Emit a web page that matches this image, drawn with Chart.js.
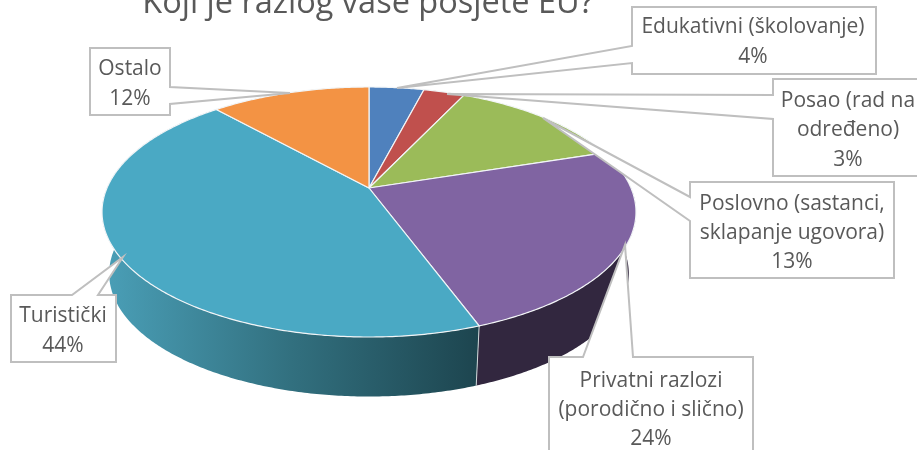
<!DOCTYPE html>
<html><head><meta charset="utf-8">
<style>html,body{margin:0;padding:0;background:#fff}canvas{display:block}</style>
<script src="https://cdn.jsdelivr.net/npm/chart.js@4"></script>
</head><body><canvas id="c" width="917" height="450"></canvas>
<script>
const titleText = 'Koji je razlog vaše posjete EU?';
const categories = ['Edukativni (školovanje)','Posao (rad na određeno)','Poslovno (sastanci, sklapanje ugovora)','Privatni razlozi (porodično i slično)','Turistički','Ostalo'];
const values = [4,3,13,24.4,44,11.6];
const colors = ['#4f81bd','#c0504d','#9bbb59','#8064a2','#4aa9c4','#f39344'];
const labelLines = [['Edukativni (školovanje)'],['Posao (rad na','određeno)'],['Poslovno (sastanci,','sklapanje ugovora)'],['Privatni razlozi','(porodično i slično)'],['Turistički'],['Ostalo']];

const FONT = '"Open Sans", sans-serif';
const k = -0.192;
const topFace = {cx:369, cy:188, a:262, b:120.4};
const botFace = {cx:369, cy:250, a:255, b:118.4};
function project(f, theta){
  const u = Math.sin(theta), v = -Math.cos(theta), w = 1 + k*v;
  return [f.cx + f.a*u/w, f.cy + f.b*v/w];
}
function tracePts(ctx, f, t0, t1, first){
  const n = Math.max(2, Math.ceil(Math.abs(t1-t0)/0.01));
  for(let i=0;i<=n;i++){
    const p = project(f, t0+(t1-t0)*i/n);
    if(i===0 && first) ctx.moveTo(p[0],p[1]); else ctx.lineTo(p[0],p[1]);
  }
}
const callouts = [
 {box:[632,7,876,74],   wedge:['L',46,63],  tip:[397,88],  y:[33,63], cx:753},
 {box:[773,79,925,176], wedge:['L',95,119], tip:[447,94],  y:[107,136,166], cx:848},
 {box:[690,182,894,278],wedge:['L',197,221],tip:[543,118], y:[210,239,268], cx:792},
 {box:[549,357,753,470],wedge:['T',583,633],tip:[625,245], y:[387,416,445], cx:651},
 {box:[11,295,116,362], wedge:['T',72,98],  tip:[123,257], y:[322,352], cx:63},
 {box:[90,48,170,115],  wedge:['R',87,104], tip:[290,93],  y:[75,105], cx:130}
];
function drawCallout(ctx, c, lines){
  const [x0,y0,x1,y1] = c.box, [side,p,q] = c.wedge, [tx,ty] = c.tip;
  ctx.beginPath();
  ctx.moveTo(x0,y0);
  if(side==='T'){ctx.lineTo(p,y0);ctx.lineTo(tx,ty);ctx.lineTo(q,y0);}
  ctx.lineTo(x1,y0);
  if(side==='R'){ctx.lineTo(x1,p);ctx.lineTo(tx,ty);ctx.lineTo(x1,q);}
  ctx.lineTo(x1,y1);ctx.lineTo(x0,y1);
  if(side==='L'){ctx.lineTo(x0,q);ctx.lineTo(tx,ty);ctx.lineTo(x0,p);}
  ctx.closePath();
  ctx.fillStyle='#fff';ctx.fill();
  ctx.lineWidth=2;ctx.lineJoin='miter';ctx.strokeStyle='#bfbfbf';ctx.stroke();
  ctx.fillStyle='#595959';ctx.font='21px '+FONT;ctx.textAlign='center';ctx.textBaseline='alphabetic';
  lines.forEach((s,i)=>ctx.fillText(s,c.cx,c.y[i]));
}
const pie3d = {
  id:'pie3d',
  beforeDatasetDraw(chart,args){
    const ctx = chart.ctx, arcs = chart.getDatasetMeta(args.index).data;
    const ang = arcs.map(el=>[el.startAngle+Math.PI/2, el.endAngle+Math.PI/2]);
    ctx.save();
    const tealGrad = ctx.createLinearGradient(104,0,478,0);
    tealGrad.addColorStop(0,'#4a9fb7');tealGrad.addColorStop(0.5,'#32707f');tealGrad.addColorStop(1,'#1d454f');
    [3,4].forEach(i=>{
      const [a,b] = ang[i];
      ctx.beginPath();tracePts(ctx,topFace,a,b,true);tracePts(ctx,botFace,b,a,false);ctx.closePath();
      ctx.fillStyle = i===4 ? tealGrad : '#32273f';ctx.fill();
    });
    const s0 = project(topFace,ang[4][0]), s1 = project(botFace,ang[4][0]);
    ctx.beginPath();ctx.moveTo(s0[0],s0[1]);ctx.lineTo(s1[0],s1[1]);ctx.strokeStyle='#cfd6d8';ctx.lineWidth=1;ctx.stroke();
    ang.forEach(([a,b],i)=>{
      ctx.beginPath();ctx.moveTo(topFace.cx,topFace.cy);tracePts(ctx,topFace,a,b,false);ctx.closePath();
      ctx.fillStyle=colors[i];ctx.fill();
      ctx.strokeStyle='#f2f5f7';ctx.lineWidth=1.2;ctx.lineJoin='round';ctx.stroke();
    });
    ctx.restore();
    return false;
  },
  afterDraw(chart){
    const ctx = chart.ctx, total = values.reduce((s,v)=>s+v,0);
    ctx.save();
    callouts.forEach((c,i)=>{
      drawCallout(ctx,c,labelLines[i].concat(Math.round(values[i]/total*100)+'%'));
    });
    ctx.restore();
  }
};
new Chart(document.getElementById('c'),{
  type:'pie',
  data:{labels:categories,datasets:[{data:values,backgroundColor:colors}]},
  options:{
    responsive:false,animation:false,
    layout:{padding:{right:181}},
    plugins:{
      legend:{display:false},tooltip:{enabled:false},
      title:{display:true,text:titleText,color:'#595959',font:{family:FONT,size:32.5,weight:'normal'},padding:{top:-16,bottom:0}}
    }
  },
  plugins:[pie3d]
});
</script></body></html>
